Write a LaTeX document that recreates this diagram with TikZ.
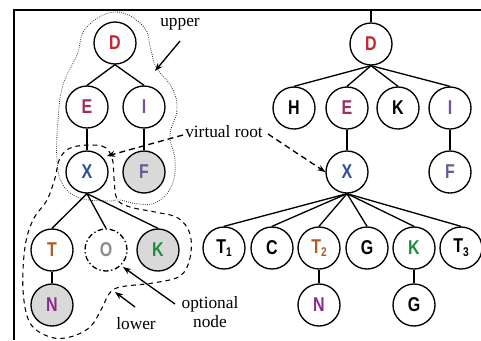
\documentclass[tikz,border=0pt]{standalone}
\usepackage{fontspec}
\setmainfont{Liberation Serif}
\newfontfamily\lblfont[FakeStretch=0.8]{Liberation Sans}
\usetikzlibrary{arrows.meta}

\definecolor{cD}{HTML}{C4262E}
\definecolor{cE}{HTML}{9C2F62}
\definecolor{cI}{HTML}{7B4FA0}
\definecolor{cX}{HTML}{2D4E9E}
\definecolor{cF}{HTML}{6A5A9A}
\definecolor{cT}{HTML}{B05A28}
\definecolor{cO}{HTML}{8C8C8C}
\definecolor{cK}{HTML}{1E8C3C}
\definecolor{cN}{HTML}{8B2A8B}
\definecolor{shade}{HTML}{D9D9D9}

\newcommand\lsub[1]{\raisebox{-0.35ex}{\fontsize{9.5}{9.5}\selectfont #1}}

\tikzset{
  tnode/.style={circle, draw, line width=1pt, minimum size=31.5pt, inner sep=0pt,
    fill=white, font=\lblfont\bfseries\fontsize{15}{17}\selectfont},
  shaded/.style={fill=shade},
  optnode/.style={dash pattern=on 4pt off 2pt on 1pt off 2pt},
  link/.style={line width=1pt},
  note/.style={font=\fontsize{13}{15}\selectfont, inner sep=1pt},
  pointer/.style={line width=1pt, -{Stealth[length=6pt,width=4.5pt]}},
  dpointer/.style={pointer, dash pattern=on 4.5pt off 3pt},
  framebar/.style={line width=2pt},
  upperzone/.style={line width=0.6pt, dash pattern=on 0.6pt off 1pt, black!80},
  lowerzone/.style={line width=0.8pt, dash pattern=on 3.5pt off 3pt}
}

\begin{document}
\begin{tikzpicture}[x=0.75pt, y=-0.75pt]
\useasboundingbox (0,0) rectangle (481,340);

% frame
\coordinate (fbot) at (14,340);
\coordinate (fcorner) at (14,10);
\coordinate (fright) at (481,10);
\draw[framebar] (fbot) -- (fcorner) -- (fright);

% regions of the left tree
\draw[upperzone] plot[smooth cycle, tension=0.7] coordinates {
  (115,12) (143,26) (151,50) (156,67) (172,88) (177,110) (170,135)
  (175,160) (172,185) (157,202) (138,204) (120,200) (107,201) (80,198)
  (63,185) (57,160) (58,120) (63,85) (77,55) (86,28)};
\draw[lowerzone] plot[smooth cycle, tension=0.6] coordinates {
  (73,147) (102,146) (112,158) (114,178) (117,199) (130,207) (155,212)
  (178,218) (190,234) (190,258) (180,276) (153,283) (120,287) (109,294)
  (102,308) (90,327) (70,337) (50,337) (30,323) (23,290) (25,247)
  (33,220) (47,200) (55,178) (60,158)};

% left tree
\node[tnode, text=cD] (lD) at (115,43) {D};
\node[tnode, text=cE] (lE) at (87,107) {E};
\node[tnode, text=cI] (lI) at (144,107) {I};
\node[tnode, text=cX] (lX) at (87,172) {X};
\node[tnode, shaded, text=cF] (lF) at (144,172) {F};
\node[tnode, text=cT] (lT) at (52,250) {T};
\node[tnode, optnode, text=cO] (lO) at (106,250) {O};
\node[tnode, shaded, text=cK] (lK) at (158,250) {K};
\node[tnode, shaded, text=cN] (lN) at (52,305) {N};

\draw[link] (lD.south) -- (lE.north);
\draw[link] (lD.south) -- (lI.north);
\draw[link] (lE.south) -- (lX.north);
\draw[link] (lI.south) -- (lF.north);
\draw[link] (lX.south) -- (lT.north);
\draw[link] (lX.south) -- (lO.north);
\draw[link] (lX.south) -- (lK.north);
\draw[link] (lT.south) -- (lN.north);

% right tree
\coordinate (rtop) at (371,10);
\node[tnode, text=cD] (rD) at (371,44) {D};
\node[tnode] (rH) at (294,108) {H};
\node[tnode, text=cE] (rE) at (347,108) {E};
\node[tnode] (rK) at (398,108) {K};
\node[tnode, text=cI] (rI) at (450,108) {I};
\node[tnode, text=cX] (rX) at (347,172) {X};
\node[tnode, text=cF] (rF) at (450,172) {F};
\node[tnode] (rT1) at (224,248) {T\lsub{1}};
\node[tnode] (rC) at (272,248) {C};
\node[tnode, text=cT] (rT2) at (319,248) {T\lsub{2}};
\node[tnode] (rG) at (367,248) {G};
\node[tnode, text=cK] (rK2) at (414,248) {K};
\node[tnode] (rT3) at (461,248) {T\lsub{3}};
\node[tnode, text=cN] (rN) at (319,305) {N};
\node[tnode] (rG2) at (414,305) {G};

\draw[link] (rD.north) -- (rtop);
\foreach \c in {rH,rE,rK,rI} \draw[link] (rD.south) -- (\c.north);
\draw[link] (rE.south) -- (rX.north);
\draw[link] (rI.south) -- (rF.north);
\foreach \c in {rT1,rC,rT2,rG,rK2,rT3} \draw[link] (rX.south) -- (\c.north);
\draw[link] (rT2.south) -- (rN.north);
\draw[link] (rK2.south) -- (rG2.north);

% annotations
\node[note] (upper) at (180,24) {upper};
\coordinate (upperfrom) at (180,41);
\coordinate (upperto) at (155,71);
\draw[pointer] (upperfrom) -- (upperto);

\node[note] (vroot) at (224,132) {virtual root};
\coordinate (vleft) at (183,135);
\coordinate (vlefttip) at (107,156);
\coordinate (vright) at (268,134);
\draw[dpointer] (vleft) -- (vlefttip);
\draw[dpointer] (vright) -- (rX.west);

\node[note, align=center] (optional) at (210,312) {optional\\[-1pt]node};
\coordinate (optfrom) at (175,304);
\coordinate (opttip) at (123,267);
\draw[pointer] (optfrom) -- (opttip);

\node[note] (lower) at (136,324) {lower};
\coordinate (lowfrom) at (135,307);
\coordinate (lowtip) at (115,292);
\draw[pointer] (lowfrom) -- (lowtip);
\end{tikzpicture}
\end{document}
